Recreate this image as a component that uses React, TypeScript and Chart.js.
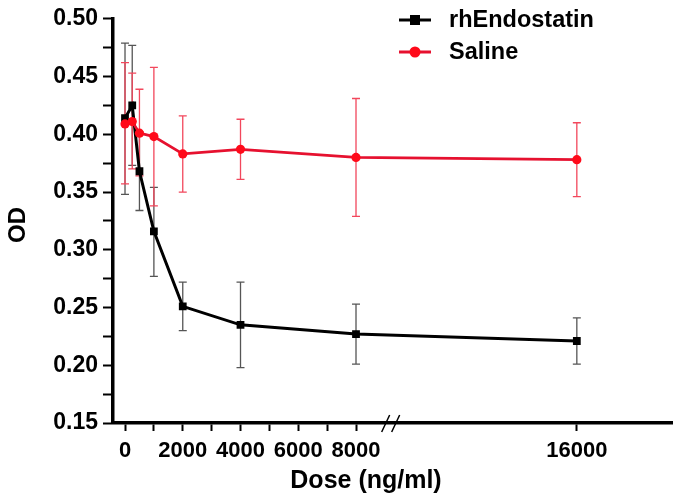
import React, { useEffect, useRef } from 'react';
import { Chart, registerables } from 'chart.js';

Chart.register(...registerables);

// ---- data ----
const doses = [0, 250, 500, 1000, 2000, 4000, 8000, 16000];
const endoMean = [0.414, 0.425, 0.368, 0.316, 0.251, 0.235, 0.227, 0.221];
const endoUpper = [0.479, 0.477, 0.402, 0.354, 0.272, 0.272, 0.253, 0.241];
const endoLower = [0.348, 0.373, 0.334, 0.277, 0.230, 0.198, 0.201, 0.201];
const salineMean = [0.409, 0.411, 0.401, 0.398, 0.383, 0.387, 0.380, 0.378];
const salineUpper = [0.462, 0.453, 0.439, 0.458, 0.416, 0.413, 0.431, 0.410];
const salineLower = [0.357, 0.370, 0.364, 0.338, 0.350, 0.361, 0.329, 0.346];

const xTickDoses = [0, 1000, 2000, 3000, 4000, 5000, 6000, 7000, 8000, 16000];
const xTickLabels = ['0', '', '2000', '', '4000', '', '6000', '', '8000', '16000'];
const yTickValues = [0.15, 0.175, 0.2, 0.225, 0.25, 0.275, 0.3, 0.325, 0.35, 0.375, 0.4, 0.425, 0.45, 0.475, 0.5];
const yTickLabels = ['0.15', '', '0.20', '', '0.25', '', '0.30', '', '0.35', '', '0.40', '', '0.45', '', '0.50'];

const seriesNames = ['rhEndostatin', 'Saline'];
const xTitle = 'Dose (ng/ml)';
const yTitle = 'OD';

// broken x axis: segment after 8000 is compressed
const BREAK_AT = 8000;
const COMPRESS = 0.956;
const BREAK_MARK = 9200;
const axisPos = (d: number) => (d <= BREAK_AT ? d : BREAK_AT + (d - BREAK_AT) * COMPRESS);

const FONT = "'Liberation Sans', Arial, sans-serif";
const BLACK = '#000000';
const RED_LINE = '#e6112f';
const RED_POINT = '#ff0a1a';

const errorBarPlugin = {
  id: 'errorBars',
  beforeDatasetsDraw(chart: any) {
    const { ctx, scales } = chart;
    const xs = scales.x;
    const ys = scales.y;
    const sets = [
      { lo: endoLower, hi: endoUpper, color: '#555555' },
      { lo: salineLower, hi: salineUpper, color: '#f2475c' },
    ];
    ctx.save();
    sets.forEach((s) => {
      ctx.strokeStyle = s.color;
      ctx.lineWidth = 1.3;
      doses.forEach((d, i) => {
        const x = xs.getPixelForValue(axisPos(d));
        const y1 = ys.getPixelForValue(s.lo[i]);
        const y2 = ys.getPixelForValue(s.hi[i]);
        ctx.beginPath();
        ctx.moveTo(x, y1);
        ctx.lineTo(x, y2);
        ctx.moveTo(x - 4, y1);
        ctx.lineTo(x + 4, y1);
        ctx.moveTo(x - 4, y2);
        ctx.lineTo(x + 4, y2);
        ctx.stroke();
      });
    });
    ctx.restore();
  },
};

const decorPlugin = {
  id: 'decor',
  afterDraw(chart: any) {
    const { ctx, scales, chartArea } = chart;
    const xs = scales.x;
    ctx.save();
    // axis break marks
    const bx = xs.getPixelForValue(BREAK_MARK);
    const by = chartArea.bottom;
    ctx.strokeStyle = '#000';
    ctx.lineWidth = 1.5;
    [-5, 5].forEach((off) => {
      ctx.beginPath();
      ctx.moveTo(bx + off - 4, by + 9);
      ctx.lineTo(bx + off + 4, by - 8);
      ctx.stroke();
    });

    // x axis title
    ctx.fillStyle = '#000';
    ctx.font = `bold 25px ${FONT}`;
    ctx.textAlign = 'center';
    ctx.textBaseline = 'alphabetic';
    ctx.fillText(xTitle, 366, 488);

    // y axis title
    ctx.save();
    ctx.translate(25, 225);
    ctx.rotate(-Math.PI / 2);
    ctx.font = `bold 24px ${FONT}`;
    ctx.textAlign = 'center';
    ctx.textBaseline = 'alphabetic';
    ctx.fillText(yTitle, 0, 0);
    ctx.restore();

    // legend
    const lx1 = 399;
    const lx2 = 431;
    const rows = [
      { y: 20, color: BLACK, pColor: BLACK, shape: 'rect', name: seriesNames[0] },
      { y: 52, color: RED_LINE, pColor: RED_POINT, shape: 'circle', name: seriesNames[1] },
    ];
    rows.forEach((r) => {
      ctx.strokeStyle = r.color;
      ctx.lineWidth = 3;
      ctx.beginPath();
      ctx.moveTo(lx1, r.y);
      ctx.lineTo(lx2, r.y);
      ctx.stroke();
      ctx.fillStyle = r.pColor;
      const cx = (lx1 + lx2) / 2;
      if (r.shape === 'rect') {
        ctx.fillRect(cx - 5, r.y - 5, 10, 10);
      } else {
        ctx.beginPath();
        ctx.arc(cx, r.y, 5.5, 0, Math.PI * 2);
        ctx.fill();
      }
      ctx.fillStyle = '#000';
      ctx.textAlign = 'left';
      ctx.textBaseline = 'middle';
      ctx.font = `bold 23.5px ${FONT}`;
      ctx.fillText(r.name, 449, r.y + 1);
    });
    ctx.restore();
  },
};

export default function App() {
  const canvasRef = useRef<HTMLCanvasElement | null>(null);

  useEffect(() => {
    document.body.style.margin = '0';
    const canvas = canvasRef.current;
    if (!canvas) return;
    const chart = new Chart(canvas, {
      type: 'line',
      data: {
        datasets: [
          {
            label: seriesNames[0],
            data: doses.map((d, i) => ({ x: axisPos(d), y: endoMean[i] })),
            borderColor: BLACK,
            backgroundColor: BLACK,
            borderWidth: 3,
            pointStyle: 'rect',
            pointRadius: 5.5,
            pointBackgroundColor: BLACK,
            pointBorderWidth: 0,
            tension: 0,
            order: 2,
          },
          {
            label: seriesNames[1],
            data: doses.map((d, i) => ({ x: axisPos(d), y: salineMean[i] })),
            borderColor: RED_LINE,
            backgroundColor: RED_POINT,
            borderWidth: 2.8,
            pointStyle: 'circle',
            pointRadius: 4.6,
            pointBackgroundColor: RED_POINT,
            pointBorderWidth: 0,
            tension: 0,
            order: 1,
          },
        ],
      },
      options: {
        animation: false,
        responsive: true,
        maintainAspectRatio: false,
        layout: { padding: { top: 16.5, right: 6, bottom: 0, left: 0 } },
        plugins: {
          legend: { display: false },
          tooltip: { enabled: false },
        },
        scales: {
          x: {
            type: 'linear',
            min: -416,
            max: 18944,
            afterBuildTicks: (s: any) => {
              s.ticks = xTickDoses.map((d) => ({ value: axisPos(d) }));
            },
            afterFit: (s: any) => {
              s.height = 74;
            },
            ticks: {
              autoSkip: false,
              maxRotation: 0,
              padding: 7,
              color: '#000',
              font: { family: FONT, size: 22, weight: 'bold' },
              callback: (_v: any, i: number) => xTickLabels[i],
            },
            grid: {
              drawOnChartArea: false,
              drawTicks: true,
              tickLength: 8,
              tickWidth: 2,
              tickColor: '#000',
            },
            border: { display: true, width: 3.5, color: '#000' },
          },
          y: {
            type: 'linear',
            min: 0.15,
            max: 0.5,
            afterBuildTicks: (s: any) => {
              s.ticks = yTickValues.map((v) => ({ value: v }));
            },
            afterFit: (s: any) => {
              s.width = 113;
            },
            ticks: {
              autoSkip: false,
              padding: 5,
              color: '#000',
              font: { family: FONT, size: 23, weight: 'bold' },
              callback: (_v: any, i: number) => yTickLabels[i],
            },
            grid: {
              drawOnChartArea: false,
              drawTicks: true,
              tickLength: 10,
              tickWidth: 2,
              tickColor: '#000',
            },
            border: { display: true, width: 3.5, color: '#000' },
          },
        },
      },
      plugins: [errorBarPlugin, decorPlugin],
    } as any);
    return () => chart.destroy();
  }, []);

  return (
    <div style={{ width: 678, height: 497, position: 'relative', background: '#fff' }}>
      <canvas ref={canvasRef} />
    </div>
  );
}
